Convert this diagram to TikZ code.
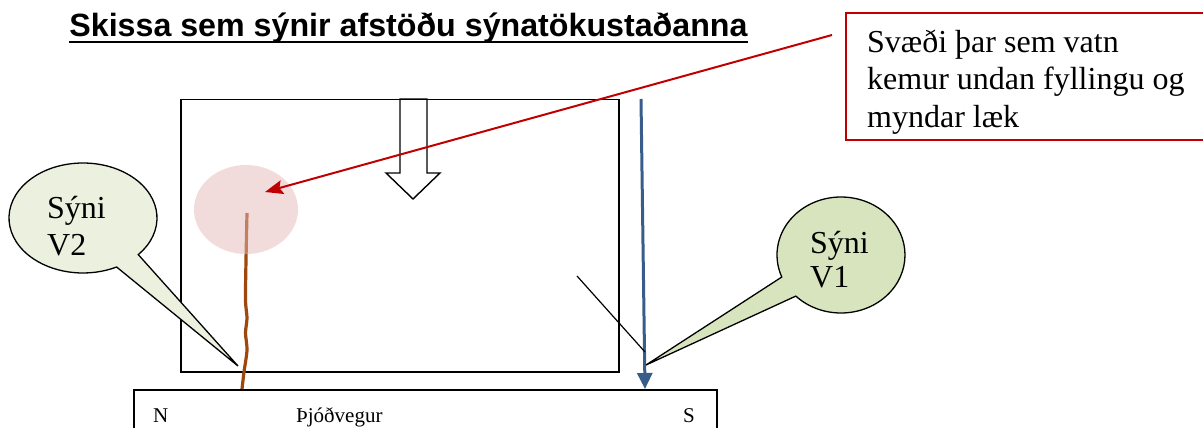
\documentclass[tikz,border=0pt]{standalone}
\usepackage{fontspec}
\setmainfont{Liberation Serif}
\newfontfamily\titlefont{Liberation Sans}
\usetikzlibrary{arrows.meta,shapes.geometric,calc}
\definecolor{notered}{RGB}{192,0,0}
\definecolor{pinkfill}{RGB}{230,185,184}
\definecolor{brownline}{RGB}{158,72,14}
\definecolor{blueline}{RGB}{56,93,138}
\definecolor{greenA}{RGB}{235,241,222}
\definecolor{greenB}{RGB}{215,228,189}
\begin{document}
\begin{tikzpicture}[x=1pt,y=1pt,
  bigtext/.style={anchor=base west, inner sep=0, font=\fontsize{32}{37}\selectfont},
  smalltext/.style={anchor=base west, inner sep=0, font=\fontsize{21}{25}\selectfont},
  frame/.style={draw=black, line width=1.5pt},
  callout/.style={draw=black, line width=1.3pt, line join=miter}]
\useasboundingbox (0,0) rectangle (1203,-428);

% title
\node[anchor=base, inner sep=0, font=\titlefont\bfseries\fontsize{32.2}{37}\selectfont] (title) at (408.5,-37) {Skissa sem sýnir afstöðu sýnatökustaðanna};
\draw[line width=2.8pt] ([yshift=-5pt]title.base west) -- ([yshift=-5pt]title.base east);

% hollow block arrow
\draw[fill=white, line width=1.4pt] (400,-99) -- (400,-173) -- (386,-173) -- (413,-199) -- (440,-173) -- (427,-173) -- (427,-99) -- cycle;

% site rectangle
\node[frame, anchor=north west, minimum width=438pt, minimum height=272pt, inner sep=0] (site) at (180,-99) {};

% road
\node[frame, anchor=north west, minimum width=583pt, minimum height=70pt, inner sep=0] (road) at (133,-389) {};
\node[smalltext] (north) at (153,-422) {N};
\node[smalltext] (roadname) at (296,-422) {Þjóðvegur};
\node[smalltext] (south) at (683,-422) {S};

% brown stream
\coordinate (streamtop) at (247,-213);
\coordinate (streambot) at (242,-389);
\draw[brownline, line width=3.2pt] plot[smooth] coordinates {(247,-213) (246,-260) (245.5,-300) (247,-318) (245.5,-333) (247,-350) (244,-372) (242,-389)};

% pink zone
\node[ellipse, fill=pinkfill, fill opacity=0.5, minimum width=104pt, minimum height=89pt, inner sep=0] (zone) at (246,-209.5) {};

% note box
\draw[notered, line width=2pt] (846,-13) rectangle (1215,-140);
\node[bigtext] (note1) at (867,-53) {Svæði þar sem vatn};
\node[bigtext] (note2) at (867,-90) {kemur undan fyllingu og};
\node[bigtext] (note3) at (867,-127) {myndar læk};

% red arrow
\coordinate (redstart) at (832,-35);
\coordinate (redend) at (265,-192);
\draw[notered, line width=2pt, -{Stealth[length=18pt,width=14pt,inset=3pt]}] (redstart) -- (redend);

% blue arrow
\coordinate (bluestart) at (641,-99);
\draw[blueline, line width=3pt, -{Triangle[length=16pt,width=15pt]}] (bluestart) -- (645,-389);

% black diagonal line
\coordinate (diagA) at (577,-276);
\coordinate (diagB) at (645,-352);
\draw[line width=1.2pt] (diagA) -- (diagB);

% callout V2
\coordinate (tipV2) at (238,-366);
\draw[callout, fill=greenA] (tipV2) -- ($(83,-218)+(-41.7:74 and 55)$) arc[start angle=-41.7, end angle=297, x radius=74, y radius=55] -- cycle;
\node[bigtext] (v2a) at (47,-218) {Sýni};
\node[bigtext] (v2b) at (47,-255) {V2};

% callout V1
\coordinate (tipV1) at (646,-365);
\draw[callout, fill=greenB] (tipV1) -- ($(841,-255)+(225.1:64 and 58)$) arc[start angle=225.1, end angle=562.3, x radius=64, y radius=58] -- cycle;
\node[bigtext] (v1a) at (810,-253) {Sýni};
\node[bigtext] (v1b) at (810,-287) {V1};
\end{tikzpicture}
\end{document}
